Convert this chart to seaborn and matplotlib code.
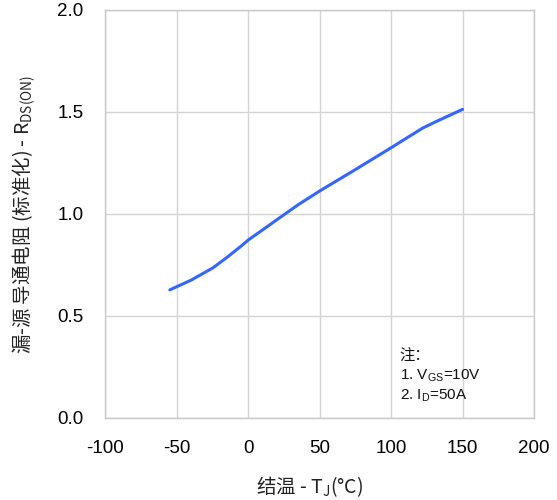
import matplotlib
matplotlib.use("Agg")
import matplotlib.pyplot as plt
import seaborn as sns
import pandas as pd

# junction temperature (°C) and normalized on-resistance
temp_c = [-55, -40, -25, -15, -5, 0, 10, 20, 35, 50, 75, 100, 122, 132, 150]
rds_norm = [0.628, 0.676, 0.735, 0.787, 0.843, 0.873, 0.922, 0.972, 1.046, 1.113,
            1.218, 1.325, 1.421, 1.455, 1.513]

x_ticks = [-100, -50, 0, 50, 100, 150, 200]
y_ticks = [0.0, 0.5, 1.0, 1.5, 2.0]
notes = ["注：", "1. V$_{\\mathregular{GS}}$=10V", "2. I$_{\\mathregular{D}}$=50A"]

sns.set_theme(style="whitegrid")
plt.rcParams["font.family"] = ["Liberation Sans", "Noto Sans CJK SC"]
plt.rcParams["mathtext.fontset"] = "custom"
plt.rcParams["mathtext.rm"] = "Liberation Sans"
plt.rcParams["mathtext.it"] = "Liberation Sans:italic"

df = pd.DataFrame({"T": temp_c, "R": rds_norm})

fig = plt.figure(figsize=(5.57, 5.0), dpi=100)
ax = fig.add_axes([0.1894, 0.164, 0.7693, 0.816])

sns.lineplot(data=df, x="T", y="R", ax=ax, color="#3366ff", linewidth=2.2)

ax.set_xlim(-100, 200)
ax.set_ylim(0, 2.0)
ax.set_xticks(x_ticks)
ax.set_yticks(y_ticks)
ax.set_xticklabels([str(t) for t in x_ticks])
ax.set_yticklabels([f"{t:.1f}" for t in y_ticks])
ax.tick_params(axis="both", length=0, labelsize=13.5, colors="black")
ax.tick_params(axis="y", pad=16)
ax.tick_params(axis="x", pad=16)

ax.grid(True, color="#d4d4d4", linewidth=1.0)
for s in ax.spines.values():
    s.set_visible(True)
    s.set_color("#c8c8c8")
    s.set_linewidth(1.0)

# CJK parts need the CJK font as the base font of a mathtext string
ax.set_xlabel("结温 - $\\mathregular{T_J(°C)}$", fontsize=14, color="#222222",
              labelpad=12, fontfamily="Noto Sans CJK SC")
ax.xaxis.label.set_x(0.477)
ax.set_ylabel("漏-源 导通电阻 (标准化) - $\\mathregular{R_{DS(ON)}}$", fontsize=14,
              color="#222222", labelpad=14, fontfamily="Noto Sans CJK SC")

for i, line in enumerate(notes):
    ax.text(106, 0.30 - i * 0.095, line, fontsize=11, color="#111111", va="center", ha="left")

fig.savefig("out.png", dpi=100)
